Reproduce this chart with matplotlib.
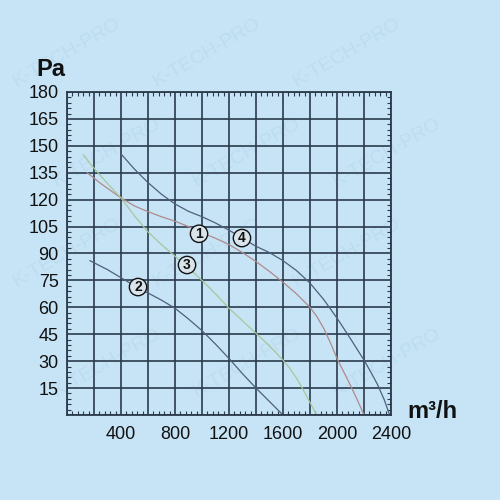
import matplotlib.pyplot as plt
from matplotlib.ticker import MultipleLocator

# curve data (flow m3/h, pressure Pa)
c1_q = [150, 250, 400, 500, 600, 700, 800, 900, 1000, 1100, 1200, 1300, 1400, 1500, 1600,
        1700, 1800, 1850, 1900, 1950, 2000, 2050, 2100, 2150, 2200]
c1_p = [135, 129, 121, 116.5, 113.3, 110.5, 108, 105, 101.5, 98.5, 95, 90.5, 85.5, 80, 74,
        67.5, 60, 55, 48.5, 40.5, 31.5, 24, 16.5, 8.5, 0]

c2_q = [170, 300, 400, 500, 600, 700, 800, 900, 1000, 1100, 1200, 1300, 1400, 1500, 1600]
c2_p = [86, 81, 76.5, 72, 68, 64, 59.5, 53.5, 47, 39.5, 31.5, 23, 15, 7.5, 0]

c3_q = [120, 200, 300, 400, 500, 600, 700, 800, 900, 1000, 1100, 1200, 1300, 1400, 1500,
        1600, 1650, 1700, 1750, 1800, 1850]
c3_p = [145, 137.5, 129, 121, 111, 102, 95, 88.5, 82, 75, 67.5, 59.5, 52.5, 45.5, 38.5,
        30.6, 26, 20.5, 14, 7, 0]

c4_q = [400, 500, 600, 700, 800, 900, 1000, 1100, 1200, 1300, 1400, 1500, 1600, 1700, 1800,
        1900, 2000, 2100, 2200, 2250, 2300, 2350, 2390]
c4_p = [145.5, 137, 129.5, 123, 117.6, 113.5, 110.5, 107, 103, 98.5, 94, 90.5, 86, 80.5, 73.5,
        64.5, 54, 42.5, 30.6, 24, 17, 8.5, 0]

labels = ['1', '2', '3', '4']
label_q = [978, 526, 889, 1296]
label_p = [101, 71.3, 83.6, 98.6]

x_ticks = list(range(0, 2401, 200))
y_ticks = list(range(0, 181, 15))

bg = '#c6e4f6'
gridc = '#2b3b4c'

plt.rcParams['font.family'] = ['Liberation Sans', 'DejaVu Sans']

fig = plt.figure(figsize=(5, 5), dpi=100)
fig.patch.set_facecolor(bg)

# very faint watermark
wm_x = [0.02, 0.30, 0.58, 0.10, 0.38, 0.66, 0.02, 0.30, 0.58, 0.10, 0.38, 0.66]
wm_y = [0.82, 0.82, 0.82, 0.62, 0.62, 0.62, 0.42, 0.42, 0.42, 0.20, 0.20, 0.20]
for x, y in zip(wm_x, wm_y):
    fig.text(x, y, 'K-TECH-PRO', rotation=30, fontsize=14, color='#bddcf0',
             ha='left', va='bottom', zorder=-5)

ax = fig.add_axes([0.134, 0.17, 0.648, 0.646])
ax.set_facecolor('none')

ax.plot(c1_q, c1_p, color='#b08a8a', lw=0.9)
ax.plot(c2_q, c2_p, color='#4f5f7c', lw=0.9)
ax.plot(c3_q, c3_p, color='#a7c79a', lw=0.9)
ax.plot(c4_q, c4_p, color='#4f5f7c', lw=0.9)

for lab, q, p in zip(labels, label_q, label_p):
    ax.text(q, p, lab, ha='center', va='center', fontsize=10, fontweight='bold',
            color='#111111',
            bbox=dict(boxstyle='circle,pad=0.12', fc='#d9e3ea', ec='#111111', lw=1))

ax.set_xlim(0, 2400)
ax.set_ylim(0, 180)
ax.set_xticks(x_ticks)
ax.set_xticklabels([str(v) if v % 400 == 0 and v > 0 else '' for v in x_ticks])
ax.set_yticks(y_ticks)
ax.set_yticklabels([str(v) if v > 0 else '' for v in y_ticks])
ax.xaxis.set_minor_locator(MultipleLocator(40))
ax.yaxis.set_minor_locator(MultipleLocator(3))
ax.tick_params(which='major', length=0, labelsize=13, colors='#111111', pad=6)
ax.tick_params(axis='x', which='major', pad=8)
ax.tick_params(which='minor', direction='in', length=3, width=0.8, color=gridc,
               top=True, right=True, bottom=True, left=True)
ax.grid(True, which='major', color=gridc, lw=1.2)
for s in ax.spines.values():
    s.set_color(gridc)
    s.set_linewidth(1.3)

fig.text(0.072, 0.848, 'Pa', fontsize=17, fontweight='bold', color='#111111')
fig.text(0.814, 0.163, 'm³/h', fontsize=17, fontweight='bold', color='#111111')

fig.savefig('out.png', dpi=100, facecolor=bg)
